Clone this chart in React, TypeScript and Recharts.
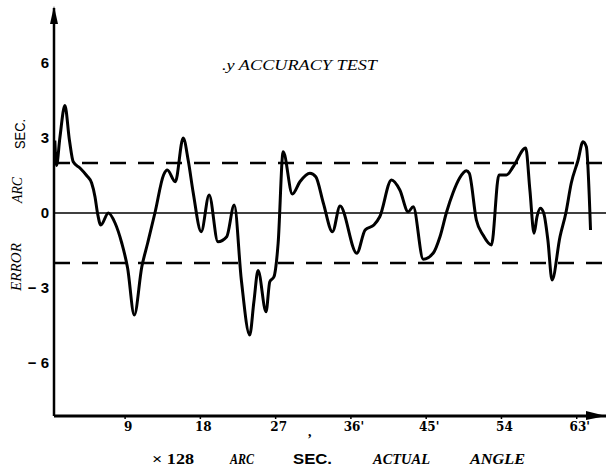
import React from 'react';
import { LineChart, Line, XAxis, YAxis, ReferenceLine, ReferenceDot } from 'recharts';

// actual angle (x 128 arc sec) and error (arc sec)
const angle = [0.6, 0.8, 1.2, 1.8, 2.35, 2.8, 3.6, 4.4, 5.0, 5.4, 5.7, 6.1, 7.0, 7.8, 8.6, 9.3, 10.1, 11.0, 11.7, 12.6, 13.6, 14.05, 15.0, 15.95, 16.55, 17.15, 18.1, 19.05, 20.1, 21.15, 22.05, 22.9, 23.9, 24.4, 24.9, 25.85, 26.3, 26.8, 27.3, 27.9, 29.0, 29.9, 31.1, 31.8, 32.7, 33.8, 34.7, 36.7, 37.7, 38.75, 39.45, 40.85, 41.85, 42.85, 43.45, 44.65, 45.85, 46.65, 47.45, 48.2, 49.0, 49.8, 50.15, 51.0, 51.8, 52.8, 53.7, 54.6, 55.4, 56.9, 57.4, 57.9, 58.25, 58.65, 59.05, 59.55, 60.05, 61.0, 61.7, 62.35, 63.15, 63.75, 64.15, 64.65];
const error = [2.9, 1.9, 3.0, 4.3, 2.9, 2.05, 1.8, 1.5, 1.2, 0.65, 0.0, -0.48, 0.0, -0.4, -1.2, -2.2, -4.08, -2.15, -1.2, 0.05, 1.52, 1.72, 1.25, 3.0, 2.1, 0.8, -0.75, 0.72, -1.15, -0.95, 0.32, -2.68, -4.88, -3.55, -2.3, -3.95, -2.75, -2.55, -1.2, 2.45, 0.76, 1.25, 1.59, 1.45, 0.4, -0.75, 0.28, -1.61, -0.68, -0.48, -0.15, 1.32, 0.92, 0.05, 0.25, -1.85, -1.6, -0.95, 0.05, 0.8, 1.4, 1.69, 1.59, -0.28, -0.88, -1.28, 1.52, 1.52, 1.85, 2.6, 0.92, -0.81, -0.15, 0.19, 0.0, -1.08, -2.68, -0.95, 0.0, 1.2, 2.1, 2.85, 2.65, -0.68];

const xTicks = [9, 18, 27, 36, 45, 54, 63];
const xTickLabels = ['9', '18', '27', "36'", "45'", '54', "63'"];
const yTicks = [-6, -3, 0, 3, 6];
const yTickLabels = ['\u2212 6', '\u2212 3', '0', '3', '6'];
const limits = [2, -2];

const data = angle.map((a, i) => ({ a, e: error[i] }));

const UpArrow = (p: any) => (
  <polygon points={`${p.cx - 4},${p.cy + 16} ${p.cx},${p.cy - 2} ${p.cx + 4},${p.cy + 16}`} fill="#000" />
);
const RightArrow = (p: any) => (
  <polygon points={`${p.cx - 20},${p.cy - 5} ${p.cx},${p.cy} ${p.cx - 20},${p.cy + 4}`} fill="#000" />
);

const XTick = (p: any) => {
  const i = xTicks.indexOf(p.payload.value);
  return (
    <text x={p.x + 3} y={p.y + 10} textAnchor="middle" fontFamily="DejaVu Serif" fontWeight="bold" fontSize={12} fill="#000">
      {xTickLabels[i]}
    </text>
  );
};

const YTick = (p: any) => {
  const i = yTicks.indexOf(p.payload.value);
  return (
    <text x={p.x} y={p.y} dy={5} textAnchor="end" fontFamily="Liberation Sans" fontWeight="bold" fontSize={15} fill="#000">
      {yTickLabels[i]}
    </text>
  );
};

export default function App() {
  return (
    <div style={{ position: 'absolute', left: 0, top: 0, width: 606, height: 469, background: '#fff' }}>
      <LineChart width={606} height={469} data={data} margin={{ top: 8, right: 0, left: 0, bottom: 23 }}>
        <XAxis
          type="number"
          dataKey="a"
          domain={[0.5, 66.5]}
          ticks={xTicks}
          tick={<XTick />}
          tickSize={3}
          tickLine={{ stroke: '#000', strokeWidth: 1.5 }}
          axisLine={{ stroke: '#000', strokeWidth: 3 }}
          height={30}
          allowDataOverflow
        />
        <YAxis
          type="number"
          domain={[-8.12, 8.2]}
          ticks={yTicks}
          tick={<YTick />}
          tickSize={0}
          tickMargin={5}
          axisLine={{ stroke: '#000', strokeWidth: 2.5 }}
          width={54}
          allowDataOverflow
        />
        <ReferenceLine y={0} stroke="#000" strokeWidth={1.5} />
        {limits.map((v) => (
          <ReferenceLine key={v} y={v} stroke="#000" strokeWidth={2.5} strokeDasharray="16 12" />
        ))}
        <Line type="monotone" dataKey="e" stroke="#000" strokeWidth={3} dot={false} isAnimationActive={false} />
        <ReferenceDot x={0.5} y={8.2} r={0} shape={<UpArrow />} ifOverflow="visible" />
        <ReferenceDot x={66.5} y={-8.12} r={0} shape={<RightArrow />} ifOverflow="visible" />
      </LineChart>
      <svg width={606} height={469} style={{ position: 'absolute', left: 0, top: 0, pointerEvents: 'none' }}>
        <text x={222} y={70} fontFamily="Liberation Serif" fontStyle="italic" fontSize={14} textLength={155} lengthAdjust="spacingAndGlyphs">
          .y ACCURACY TEST
        </text>
        <text transform="translate(25,134) rotate(-90)" textAnchor="middle" fontFamily="Liberation Sans" fontSize={15} textLength={30} lengthAdjust="spacingAndGlyphs">
          SEC.
        </text>
        <text transform="translate(22,190) rotate(-90)" textAnchor="middle" fontFamily="Liberation Serif" fontStyle="italic" fontSize={14} textLength={26} lengthAdjust="spacingAndGlyphs">
          ARC
        </text>
        <text transform="translate(21,267) rotate(-90)" textAnchor="middle" fontFamily="Liberation Serif" fontStyle="italic" fontSize={14} textLength={48} lengthAdjust="spacingAndGlyphs">
          ERROR
        </text>
        <text x={308} y={436} fontFamily="Liberation Serif" fontWeight="bold" fontSize={14}>,</text>
        <text x={152} y={464} fontFamily="Liberation Serif" fontWeight="bold" fontSize={15} textLength={42} lengthAdjust="spacingAndGlyphs">× 128</text>
        <text x={230} y={464} fontFamily="Liberation Serif" fontWeight="bold" fontStyle="italic" fontSize={14} textLength={24} lengthAdjust="spacingAndGlyphs">ARC</text>
        <text x={293} y={464} fontFamily="Liberation Sans" fontWeight="bold" fontSize={14} textLength={39} lengthAdjust="spacingAndGlyphs">SEC.</text>
        <text x={373} y={464} fontFamily="Liberation Serif" fontWeight="bold" fontStyle="italic" fontSize={14} textLength={57} lengthAdjust="spacingAndGlyphs">ACTUAL</text>
        <text x={470} y={464} fontFamily="Liberation Serif" fontWeight="bold" fontStyle="italic" fontSize={14} textLength={55} lengthAdjust="spacingAndGlyphs">ANGLE</text>
      </svg>
    </div>
  );
}
